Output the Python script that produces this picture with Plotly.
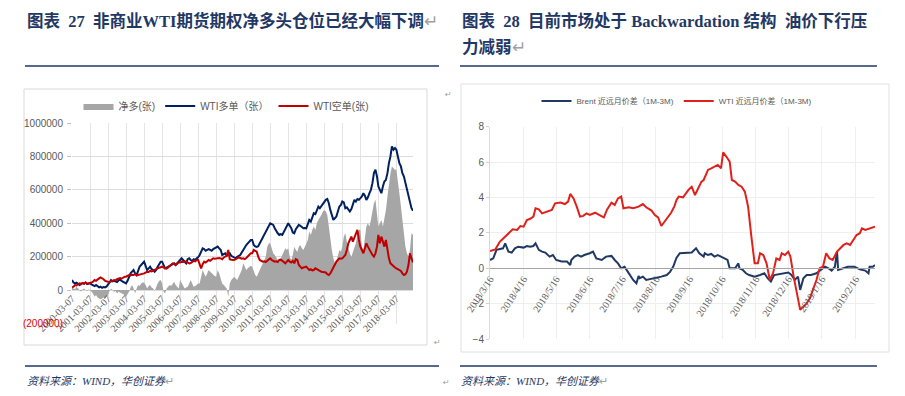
import pandas as pd
import plotly.graph_objects as go

# ---------------- Left chart: CFTC non-commercial WTI positions (unit: 张, values in thousands) ----------------
cot_start = "2000-03-07"
net_k = [
    15, 10, 5, 20, 10, 0, -10, 5, 10, 0, -5, 5,
    0, -10, -20, -40, -30, -45, -50, -55, -50, -45, -50, -40,
    -30, -5, 10, 0, -10, -5, -20, -10, -15, -20, -25, -30,
    -40, -25, -10, 15, 30, 10, -20, 10, 30, 25, 40, 45,
    45, 30, 10, 25, 30, 15, 10, -5, 20, 40, 55, 60,
    40, -10, -20, 10, 20, 30, 25, 40, 50, 30, 20, 10,
    60, 40, 20, 10, 15, 20, 40, 60, 40, 20, 25, 30,
    40, 40, 80, 120, 100, 80, 100, 120, 110, 100, 90, 85,
    80, 120, 100, 70, 40, 30, 20, 10, -40, 40, 60, 70,
    80, 70, 60, 80, 100, 120, 160, 140, 120, 130, 140, 145,
    140, 110, 90, 80, 100, 120, 140, 160, 180, 200, 260, 280,
    280, 240, 220, 210, 190, 180, 170, 190, 210, 230, 250, 240,
    250, 200, 180, 210, 260, 240, 230, 260, 270, 250, 240, 260,
    280, 300, 350, 330, 360, 380, 360, 400, 420, 440, 450, 470,
    480, 470, 450, 380, 300, 240, 190, 160, 170, 200, 240, 230,
    260, 320, 340, 290, 250, 220, 200, 230, 260, 280, 330, 360,
    360, 260, 240, 300, 380, 400, 380, 420, 480, 520, 540, 450,
    380, 400, 420, 380, 420, 480, 560, 640, 700, 740, 730, 720,
    720, 660, 580, 500, 420, 340, 260, 220, 200, 240, 340, 330,
]
long_k = [
    60, 45, 40, 44, 38, 30, 35, 42, 38, 45, 36, 40,
    40, 34, 28, 24, 30, 22, 16, 20, 14, 18, 16, 22,
    30, 45, 60, 52, 55, 50, 48, 58, 62, 55, 48, 42,
    40, 55, 80, 100, 110, 120, 100, 90, 115, 140, 150, 160,
    170, 145, 120, 130, 140, 125, 120, 110, 120, 140, 160, 170,
    170, 150, 130, 135, 140, 145, 150, 155, 160, 150, 160, 165,
    175, 190, 180, 170, 160, 185, 190, 180, 175, 185, 180, 190,
    196, 210, 230, 250, 245, 235, 240, 245, 240, 235, 245, 250,
    250, 260, 250, 240, 210, 215, 220, 205, 215, 220, 205, 200,
    196, 190, 200, 205, 210, 225, 240, 260, 270, 280, 290, 300,
    300, 270, 262, 258, 262, 280, 290, 310, 330, 345, 360, 380,
    400, 395, 390, 370, 350, 340, 330, 335, 330, 350, 370, 390,
    400, 385, 370, 345, 340, 365, 380, 390, 385, 375, 370, 372,
    370, 395, 420, 410, 440, 460, 455, 480, 500, 490, 505, 520,
    530, 540, 545, 520, 480, 440, 420, 430, 440, 470, 500, 510,
    530, 525, 490, 495, 480, 470, 485, 510, 540, 530, 545, 540,
    550, 560, 580, 565, 540, 555, 580, 600, 640, 700, 720, 680,
    620, 600, 580, 620, 650, 660, 700, 760, 800, 860, 840, 850,
    840, 800, 760, 740, 700, 680, 640, 600, 560, 520, 490, 475,
]
short_k = [
    16, 20, 30, 28, 35, 40, 38, 42, 40, 45, 38, 40,
    40, 45, 50, 60, 55, 65, 70, 76, 72, 65, 55, 50,
    50, 48, 50, 55, 60, 58, 65, 70, 72, 68, 75, 80,
    80, 85, 90, 88, 92, 90, 95, 88, 90, 95, 98, 100,
    100, 105, 110, 108, 115, 112, 118, 120, 125, 130, 135, 140,
    140, 135, 130, 128, 135, 145, 150, 160, 155, 150, 158, 165,
    165, 170, 168, 172, 170, 165, 160, 162, 170, 175, 172, 180,
    180, 150, 130, 155, 170, 165, 175, 180, 175, 185, 190, 188,
    190, 188, 192, 190, 185, 195, 200, 205, 240, 185, 182, 180,
    180, 185, 190, 196, 192, 188, 190, 185, 192, 200, 210, 220,
    220, 240, 235, 230, 200, 180, 175, 170, 172, 168, 175, 185,
    190, 180, 175, 170, 172, 168, 180, 182, 175, 165, 160, 170,
    180, 170, 165, 175, 160, 185, 180, 150, 140, 130, 135, 140,
    140, 130, 120, 125, 118, 120, 130, 125, 122, 115, 110, 108,
    110, 105, 95, 90, 100, 120, 130, 160, 170, 180, 190, 188,
    190, 200, 210, 240, 280, 300, 320, 290, 310, 340, 360, 300,
    260, 240, 220, 250, 280, 260, 240, 230, 210, 200, 220, 260,
    330, 280, 320, 290, 260, 300, 240, 190, 160, 150, 140, 135,
    130, 125, 120, 115, 100, 90, 95, 110, 150, 220, 190, 165,
]
cot_ticks = [f"{y}-03-07" for y in range(2000, 2019)]
cot_end = "2019-02-07"
left_y_vals = [-200000, 0, 200000, 400000, 600000, 800000, 1000000]
left_y_text = ['<span style="color:#e00000">(200000)</span>', "0", "200000", "400000",
               "600000", "800000", "1000000"]

# ---------------- Right chart: 1M-3M spreads (days since 2018-03-16) ----------------
spread_start = "2018-03-16"
spread_end = "2019-03-06"
wti_days = [0, 5, 9, 14, 18, 21, 25, 28, 31, 34, 37, 40, 42, 45, 48, 52, 57, 60, 65, 69,
            72, 74, 77, 80, 83, 86, 89, 92, 97, 101, 105, 108, 112, 115, 118, 121, 123, 128, 132, 137,
            141, 144, 149, 152, 155, 158, 161, 164, 167, 170, 172, 174, 178, 183, 186, 189, 192, 195, 197, 201,
            204, 207, 210, 213, 215, 218, 221, 223, 226, 229, 232, 235, 238, 241, 244, 247, 249, 252, 255, 258,
            261, 264, 267, 269, 272, 275, 277, 280, 283, 286, 289, 292, 295, 298, 301, 304, 307, 310, 313, 316,
            320, 323, 326, 329, 332, 335, 338, 341, 343, 346, 350, 355]
wti_vals = [0.98, 1.07, 1.5, 1.79, 2.07, 2.2, 2.17, 2.39, 2.35, 2.73, 2.8, 2.92, 3.39, 3.33, 3.1, 3.2, 3.3, 3.67, 3.71, 3.63,
            3.77, 4.2, 3.95, 3.48, 2.92, 2.96, 3.1, 3.01, 3.14, 3.01, 2.88, 3.33, 3.71, 3.58, 3.95, 4.05, 3.39, 3.45, 3.39, 3.48,
            3.63, 3.45, 3.26, 3.01, 2.88, 2.39, 2.64, 2.88, 3.14, 3.5, 3.86, 4.05, 4.01, 4.43, 4.61, 4.14, 4.52, 4.9, 4.99, 5.56,
            5.65, 5.74, 5.84, 5.65, 6.55, 6.3, 6.03, 4.99, 4.9, 4.71, 4.61, 4.33, 3.48, 1.79, 0.28, 0.28, 0.85, 0.75, 0.28, -0.66,
            -0.28, 0.56, 0.47, 0.85, 0.75, 0.94, 0.66, -0.47, -1.41, -2.35, -2.17, -1.98, -1.69, -1.22, -0.66, 0, 0.09, 0.85, 0.56, 0.47,
            0.94, 1.13, 1.32, 1.41, 1.32, 1.6, 1.88, 1.98, 2.26, 2.17, 2.26, 2.35]
brent_days = [0, 3, 6, 9, 12, 14, 17, 20, 23, 26, 31, 34, 37, 40, 42, 45, 48, 51, 55, 58,
              61, 66, 71, 74, 75, 78, 81, 84, 87, 92, 95, 98, 103, 107, 112, 115, 118, 121, 124, 127,
              132, 135, 137, 138, 141, 144, 147, 154, 158, 163, 166, 169, 172, 175, 183, 186, 190, 193, 197, 198,
              201, 204, 207, 210, 213, 216, 219, 221, 226, 229, 230, 233, 236, 239, 244, 249, 253, 256, 259, 262,
              267, 272, 275, 278, 281, 284, 286, 289, 292, 296, 301, 305, 309, 312, 315, 318, 320, 321, 326, 330,
              336, 341, 346, 349, 350, 353, 355]
brent_vals = [0.47, 0.56, 1.04, 1.07, 1.13, 1.41, 0.94, 0.89, 1.13, 1.22, 1.17, 1.26, 1.22, 1.26, 1.41, 1.04, 0.94, 0.89, 0.66, 0.75,
              0.47, 0.38, 0.38, 0.19, 0.47, 0.66, 0.75, 0.66, 0.75, 0.85, 0.94, 0.56, 0.47, 0.66, 0.7, 0.47, 0.28, 0, 0.09, -0.19,
              -0.66, -0.85, -0.43, -0.56, -0.47, -0.66, -0.62, -0.56, -0.47, -0.38, -0.2, 0.1, 0.6, 0.85, 0.85, 0.89, 1.13, 0.85, 0.66, 0.85,
              0.75, 0.81, 0.66, 0.75, 0.66, 0.56, 0.47, 0, 0, 0.28, 0, -0.09, -0.28, -0.38, -0.47, -0.38, -0.28, -0.56, -0.75, -0.38,
              -0.32, -0.28, -0.24, -0.38, -0.66, -0.47, -1.22, -0.56, -0.38, -0.38, -0.28, -0.09, 0.09, 0, -0.13, 0.09, 0.95, -0.09, 0, 0.09,
              0.09, -0.06, -0.13, -0.28, 0.09, 0.09, 0.19]
spread_ticks = ["2018/3/16", "2018/4/16", "2018/5/16", "2018/6/16", "2018/7/16", "2018/8/16",
                "2018/9/16", "2018/10/16", "2018/11/16", "2018/12/16", "2019/1/16", "2019/2/16"]
right_y_vals = [-4, -2, 0, 2, 4, 6, 8]

# ---------------- derived x values ----------------
cot_dates = [pd.Timestamp(cot_start) + pd.DateOffset(months=i) for i in range(len(net_k))]
wti_dates = pd.Timestamp(spread_start) + pd.to_timedelta(wti_days, unit="D")
brent_dates = pd.Timestamp(spread_start) + pd.to_timedelta(brent_days, unit="D")
spread_tickvals = pd.to_datetime(spread_ticks, format="%Y/%m/%d")

W, H = 905, 396
def px(x): return x / W
def py(y): return 1 - y / H

NAVY_T = "#1f3864"
GREY_T = "#595959"
SANS = "Liberation Sans, Noto Sans CJK SC, sans-serif"
SERIF = "Liberation Serif, Noto Sans CJK SC, serif"
NARROW = "Liberation Sans Narrow, Liberation Sans, Noto Sans CJK SC, sans-serif"
MARK = '<span style="color:#a0a0a0;font-weight:normal;font-style:normal">↵</span>'

fig = go.Figure()
fig.add_trace(go.Scatter(x=cot_dates, y=[v * 1000 for v in net_k], name="净多(张)", mode="lines",
                         line=dict(width=0, color="#a6a6a6"), fill="tozeroy", fillcolor="#a6a6a6",
                         xaxis="x", yaxis="y", legend="legend"))
fig.add_trace(go.Scatter(x=cot_dates, y=[v * 1000 for v in long_k], name="WTI多单（张）", mode="lines",
                         line=dict(width=2, color="#002060"), xaxis="x", yaxis="y", legend="legend"))
fig.add_trace(go.Scatter(x=cot_dates, y=[v * 1000 for v in short_k], name="WTI空单(张)", mode="lines",
                         line=dict(width=2, color="#c00000"), xaxis="x", yaxis="y", legend="legend"))
fig.add_trace(go.Scatter(x=brent_dates, y=brent_vals, name="Brent 近远月价差（1M-3M)", mode="lines",
                         line=dict(width=2, color="#1f3864"), xaxis="x2", yaxis="y2", legend="legend2"))
fig.add_trace(go.Scatter(x=wti_dates, y=wti_vals, name="WTI 近远月价差（1M-3M)", mode="lines",
                         line=dict(width=2, color="#e0201b"), xaxis="x2", yaxis="y2", legend="legend2"))

fig.update_layout(
    width=W, height=H, autosize=False,
    margin=dict(l=0, r=0, t=0, b=0, pad=0, autoexpand=False),
    paper_bgcolor="white", plot_bgcolor="white",
    xaxis=dict(domain=[px(72), px(413)], anchor="free", position=py(290), type="date", automargin=False,
               range=[cot_start, cot_end], tickmode="array", tickvals=cot_ticks, ticktext=cot_ticks,
               tickangle=-45, tickfont=dict(family=SERIF, size=10, color=GREY_T),
               showgrid=True, gridcolor="#e4e4e4", gridwidth=1, showline=False, ticks="", zeroline=False),
    yaxis=dict(domain=[py(323.5), py(123)], anchor="x", range=[-200000, 1000000], automargin=False,
               tickmode="array", tickvals=left_y_vals, ticktext=left_y_text,
               tickfont=dict(family=SANS, size=10, color=GREY_T),
               showgrid=True, gridcolor="#dcdcdc", zeroline=False, showline=False,
               ticks="outside", ticklen=4, tickcolor="#bfbfbf", ticklabelstandoff=2),
    xaxis2=dict(domain=[px(490), px(875)], anchor="free", position=py(268.3), type="date", automargin=False,
                range=[spread_start, spread_end], tickmode="array", tickvals=spread_tickvals,
                ticktext=spread_ticks, tickangle=-57, tickfont=dict(family=SERIF, size=10, color=GREY_T),
                showgrid=True, gridcolor="#efefef", showline=True, linecolor="#a6a6a6", linewidth=1,
                ticks="", zeroline=False),
    yaxis2=dict(domain=[py(339.1), py(126.7)], anchor="x2", range=[-4, 8], tickmode="array", automargin=False,
                tickvals=right_y_vals, tickfont=dict(family=NARROW, size=10, color=GREY_T),
                showgrid=True, gridcolor="#eeeeee", zeroline=False, showline=True, linecolor="#d9d9d9",
                ticks="outside", ticklen=3, tickcolor="#d0d0d0"),
    legend=dict(orientation="h", x=px(226), xanchor="center", y=py(106), yanchor="middle",
                bgcolor="rgba(0,0,0,0)", font=dict(family=SANS, size=10, color=GREY_T),
                itemwidth=30, tracegroupgap=0),
    legend2=dict(orientation="h", x=px(677), xanchor="center", y=py(101), yanchor="middle",
                 bgcolor="rgba(0,0,0,0)", font=dict(family=NARROW, size=8, color=GREY_T),
                 itemwidth=30, tracegroupgap=0),
)

shapes = [
    dict(type="rect", xref="paper", yref="paper", x0=px(24), x1=px(427), y0=py(345), y1=py(89),
         line=dict(color="#d9d9d9", width=1), layer="below"),
    dict(type="rect", xref="paper", yref="paper", x0=px(461), x1=px(889), y0=py(352), y1=py(84),
         line=dict(color="#e0e0e0", width=1), layer="below"),
    dict(type="line", xref="paper", yref="paper", x0=px(25), x1=px(439), y0=py(66), y1=py(66),
         line=dict(color=NAVY_T, width=1.5)),
    dict(type="line", xref="paper", yref="paper", x0=px(460), x1=px(877), y0=py(66), y1=py(66),
         line=dict(color=NAVY_T, width=1.5)),
    dict(type="line", xref="paper", yref="paper", x0=px(25), x1=px(439), y0=py(366), y1=py(366),
         line=dict(color=NAVY_T, width=1.5)),
    dict(type="line", xref="paper", yref="paper", x0=px(460), x1=px(877), y0=py(366), y1=py(366),
         line=dict(color=NAVY_T, width=1.5)),
]
fig.update_layout(shapes=shapes)

def note(text, x, y, size, color, family, xanchor="left"):
    fig.add_annotation(text=text, x=px(x), y=py(y), xref="paper", yref="paper", showarrow=False,
                       xanchor=xanchor, yanchor="middle", font=dict(size=size, color=color, family=family))

note("<b>图表  27  非商业WTI期货期权净多头仓位已经大幅下调</b>" + MARK, 25, 21, 16.5, NAVY_T, SERIF)
note("<b>图表  28  目前市场处于 Backwardation 结构  油价下行压</b>", 460, 21, 16.5, NAVY_T, SERIF)
note("<b>力减弱</b>" + MARK, 460, 47, 16.5, NAVY_T, SERIF)
note("<i>资料来源：WIND，华创证券</i>" + MARK, 25, 381, 11, NAVY_T, SERIF)
note("<i>资料来源：WIND，华创证券</i>" + MARK, 459, 381, 11, NAVY_T, SERIF)
for (mx, my) in [(443, 95), (432, 342), (441, 382)]:
    note("↵", mx, my, 8, "#a0a0a0", "DejaVu Sans")

fig.write_html("out.html", config={"displayModeBar": False},
               post_script="document.body.style.margin='0';document.body.style.padding='0';")
